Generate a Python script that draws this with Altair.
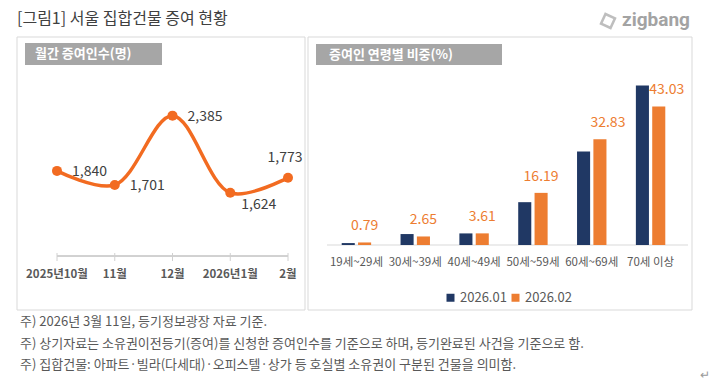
import altair as alt
import pandas as pd

# ---------------- data ----------------
months = ["2025년10월", "11월", "12월", "2026년1월", "2월"]
gifts = [1840, 1701, 2385, 1624, 1773]

ages = ["19세~29세", "30세~39세", "40세~49세", "50세~59세", "60세~69세", "70세 이상"]
share_jan = [0.6, 3.4, 3.6, 13.3, 29.0, 49.5]
share_feb = [0.79, 2.65, 3.61, 16.19, 32.83, 43.03]
periods = ["2026.01", "2026.02"]

title_text = "[그림1] 서울 집합건물 증여 현황"
logo_text = "zigbang"
left_header = "월간 증여인수(명)"
right_header = "증여인 연령별 비중(%)"
notes = [
    "주) 2026년 3월 11일, 등기정보광장 자료 기준.",
    "주) 상기자료는 소유권이전등기(증여)를 신청한 증여인수를 기준으로 하며, 등기완료된 사건을 기준으로 함.",
    "주) 집합건물: 아파트·빌라(다세대)·오피스텔·상가 등 호실별 소유권이 구분된 건물을 의미함.",
]

FONT = "Noto Sans CJK KR"
LINE_ORANGE = "#F26B21"
NAVY = "#203864"
ORANGE = "#ED7D31"
GRAY_TXT = "#595959"

line_df = pd.DataFrame({"month": months, "count": gifts,
                        "label": [f"{v:,}" for v in gifts]})
bar_df = pd.DataFrame({
    "age": ages * 2,
    "period": [periods[0]] * len(ages) + [periods[1]] * len(ages),
    "value": share_jan + share_feb,
})
feb_df = bar_df[bar_df["period"] == periods[1]].copy()
feb_df["label"] = [f"{v:.2f}" for v in feb_df["value"]]
one = pd.DataFrame({"k": [0]})

# ---------------- decorations ----------------
def rect(x, x2, y, y2, **kw):
    return alt.Chart(one).mark_rect(**kw).encode(
        x=alt.value(x), x2=alt.value(x2), y=alt.value(y), y2=alt.value(y2))

def label(txt, x, y, **kw):
    return alt.Chart(one).mark_text(text=txt, font=FONT, **kw).encode(
        x=alt.value(x), y=alt.value(y))

deco = [
    rect(9, 297, 29, 302, fill="white", stroke="#d9d9d9", strokeWidth=1),
    rect(300, 684, 29, 302, fill="white", stroke="#d9d9d9", strokeWidth=1),
    rect(17, 154, 35, 57, fill="#a6a6a6"),
    rect(308, 494, 36, 57, fill="#a6a6a6"),
    label(left_header, 27, 46, align="left", baseline="middle", fontSize=13,
          fontWeight="bold", color="white"),
    label(right_header, 321, 47, align="left", baseline="middle", fontSize=13,
          fontWeight="bold", color="white"),
    label(title_text, 9, 10.5, align="left", baseline="middle", fontSize=16,
          color="#404040"),
    alt.Chart(one).mark_text(text=logo_text, font="Roboto", fontSize=19,
                             fontWeight="bold", color="#a3a3a3",
                             align="left", baseline="middle").encode(
        x=alt.value(614), y=alt.value(12)),
    alt.Chart(one).mark_point(shape="square", filled=False, size=110, angle=25,
                              strokeWidth=2.5, color="#a3a3a3").encode(
        x=alt.value(600), y=alt.value(13)),
    label("↵", 697, 367, align="center", baseline="middle", fontSize=12,
          color="#9a9a9a"),
]
for i, n in enumerate(notes):
    deco.append(label(n, 12, 314 + i * 21.5, align="left", baseline="middle",
                      fontSize=13, color=GRAY_TXT))

# ---------------- left: line chart ----------------
xl = alt.Scale(type="point", domain=months, range=[49, 280], padding=0)
yl = alt.Scale(domain=[1000, 2500], range=[248, 96], nice=False, zero=False)
X_L = alt.X("month:N", scale=xl, axis=None, sort=months)
Y_L = alt.Y("count:Q", scale=yl, axis=None)

base_l = alt.Chart(line_df)
l_axis = base_l.mark_rule(color="#d0d0d0", strokeWidth=1).encode(
    x=alt.value(49), x2=alt.value(280), y=alt.value(248))
l_ticks = base_l.mark_rule(color="#d0d0d0", strokeWidth=1).encode(
    x=X_L, y=alt.value(245), y2=alt.value(253))
l_xlab = base_l.mark_text(font=FONT, fontSize=11.5, fontWeight="bold",
                          color=GRAY_TXT, baseline="middle").encode(
    x=X_L, y=alt.value(267), text="month:N")
l_line = base_l.mark_line(interpolate="catmull-rom", color=LINE_ORANGE,
                          strokeWidth=3.5).encode(x=X_L, y=Y_L)
l_pts = base_l.mark_circle(size=100, color=LINE_ORANGE, opacity=1).encode(x=X_L, y=Y_L)
txt_kw = dict(font=FONT, fontSize=14, color="#404040", baseline="middle")
l_lab1 = base_l.transform_filter(
    alt.FieldOneOfPredicate(field="month", oneOf=months[:3])
).mark_text(align="left", dx=15, dy=1, **txt_kw).encode(x=X_L, y=Y_L, text="label:N")
l_lab2 = base_l.transform_filter(
    alt.FieldEqualPredicate(field="month", equal=months[3])
).mark_text(align="left", dx=11, dy=12, **txt_kw).encode(x=X_L, y=Y_L, text="label:N")
l_lab3 = base_l.transform_filter(
    alt.FieldEqualPredicate(field="month", equal=months[4])
).mark_text(align="center", dx=-3, dy=-20, **txt_kw).encode(x=X_L, y=Y_L, text="label:N")

left = alt.layer(l_axis, l_ticks, l_xlab, l_line, l_pts, l_lab1, l_lab2, l_lab3)

# ---------------- right: bar chart ----------------
xb = alt.Scale(type="band", domain=ages, range=[319, 672],
               paddingInner=0.5, paddingOuter=0.25)
xo = alt.Scale(domain=periods, paddingInner=0.2, paddingOuter=0)
yb = alt.Scale(domain=[0, 50], range=[237, 76], nice=False)
X_B = alt.X("age:N", scale=xb, axis=None, sort=ages)
XO_B = alt.XOffset("period:N", scale=xo, sort=periods)
Y_B = alt.Y("value:Q", scale=yb, axis=None)

bars = alt.Chart(bar_df).mark_bar().encode(
    x=X_B, xOffset=XO_B, y=Y_B,
    color=alt.Color("period:N", sort=periods,
                    scale=alt.Scale(domain=periods, range=[NAVY, ORANGE]),
                    legend=alt.Legend(orient="none", legendX=436, legendY=283,
                                      direction="horizontal", title=None,
                                      symbolType="square", symbolSize=64,
                                      symbolStrokeWidth=0, labelFontSize=13,
                                      labelFont=FONT, labelColor=GRAY_TXT,
                                      columnPadding=2, labelOffset=3,
                                      padding=0)),
)
b_axis = alt.Chart(one).mark_rule(color="#d9d9d9", strokeWidth=1).encode(
    x=alt.value(319), x2=alt.value(680), y=alt.value(237))
b_xlab = alt.Chart(pd.DataFrame({"age": ages})).mark_text(
    font=FONT, fontSize=11.5, color=GRAY_TXT, baseline="middle").encode(
    x=X_B, y=alt.value(255), text="age:N")
vkw = dict(font=FONT, fontSize=14, color=ORANGE, baseline="middle", dy=-16)
b_lab1 = alt.Chart(feb_df).transform_filter(
    alt.FieldOneOfPredicate(field="age", oneOf=ages[:4])
).mark_text(**vkw).encode(x=X_B, xOffset=XO_B, y=Y_B, text="label:N")
b_lab2 = alt.Chart(feb_df).transform_filter(
    alt.FieldOneOfPredicate(field="age", oneOf=ages[4:])
).mark_text(dx=8, **vkw).encode(x=X_B, xOffset=XO_B, y=Y_B, text="label:N")

right = alt.layer(b_axis, bars, b_xlab, b_lab1, b_lab2)

chart = alt.layer(*deco, left, right).resolve_scale(
    x="independent", y="independent", color="independent"
).properties(
    width=704, height=376, padding=0, autosize="none", background="white"
).configure_view(stroke=None)

chart.save("out.html", embed_options={"renderer": "svg", "actions": False})
